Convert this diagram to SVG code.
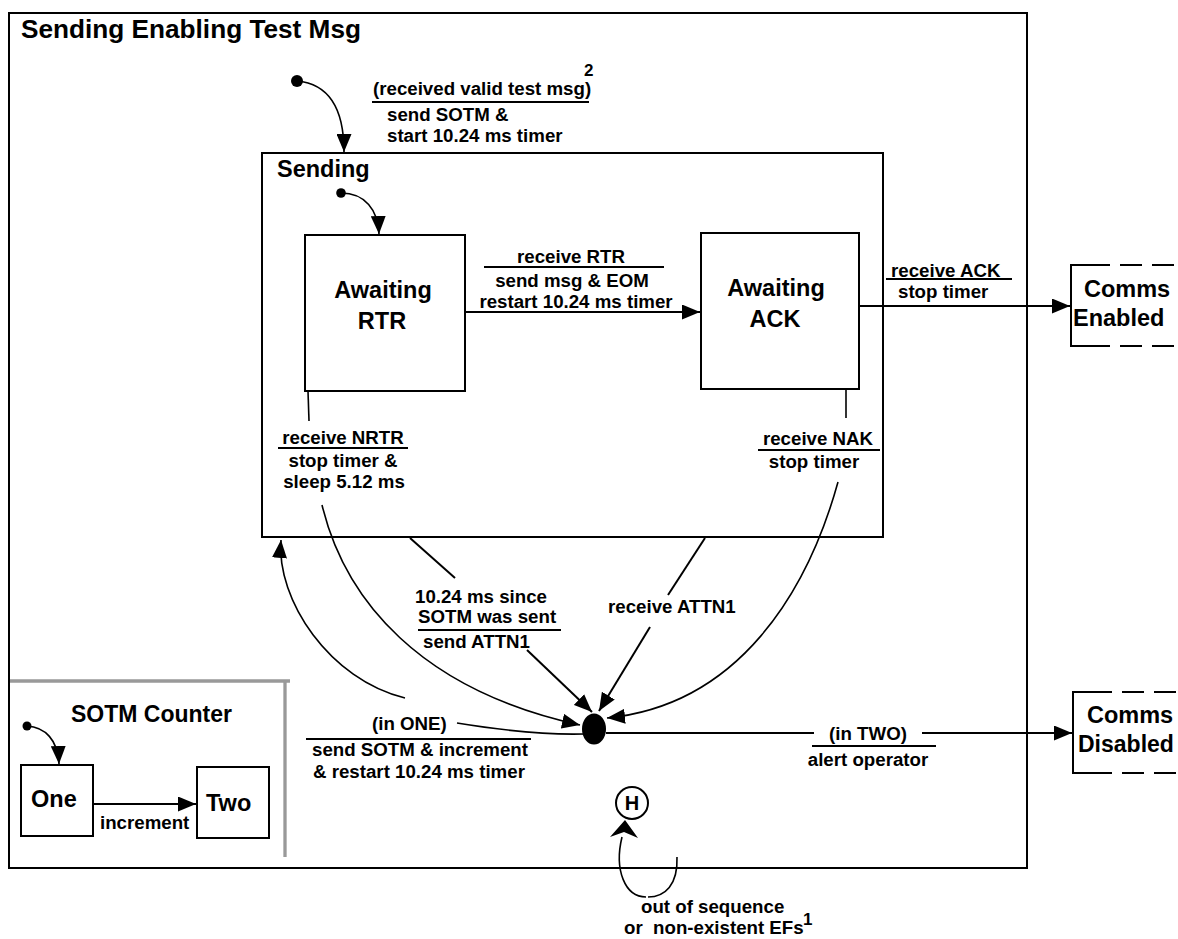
<svg xmlns="http://www.w3.org/2000/svg" width="1178" height="939" viewBox="0 0 1178 939">
<style>
.box{fill:none;stroke:#000;stroke-width:2}
.t{font-family:"Liberation Sans",Arial,sans-serif;font-weight:bold;fill:#000}
.s{font-size:18.7px}
.l{font-size:23.5px}
.c{fill:none;stroke:#000;stroke-width:2}
.cv{fill:none;stroke:#000;stroke-width:1.6}
.ul{stroke:#000;stroke-width:2}
.dash{stroke:#000;stroke-width:2;stroke-dasharray:22 10;fill:none}
.gray{stroke:#999;stroke-width:3.3;fill:none}
.mid{text-anchor:middle}
</style>
<defs>
<marker id="arr" markerUnits="userSpaceOnUse" markerWidth="18" markerHeight="15" refX="18" refY="7.5" orient="auto">
<path d="M0,0 L18,7.5 L0,15 z" fill="#000"/>
</marker>
</defs>
<rect width="1178" height="939" fill="#fff"/>

<g id="outer-state">
<rect class="box" x="9" y="13" width="1018" height="855"/>
<text class="t" x="21" y="38" font-size="26.2">Sending Enabling Test Msg</text>
</g>

<g id="sending">
<rect class="box" x="262" y="153" width="621" height="384"/>
<text class="t l" x="277" y="177">Sending</text>
</g>

<g id="awaiting-rtr">
<rect class="box" x="305" y="235" width="160" height="156"/>
<text class="t l mid" x="383" y="298">Awaiting</text>
<text class="t l mid" x="382" y="329">RTR</text>
</g>

<g id="awaiting-ack">
<rect class="box" x="701" y="233" width="158" height="156"/>
<text class="t l mid" x="776" y="296">Awaiting</text>
<text class="t l mid" x="775" y="327">ACK</text>
</g>

<g id="comms-enabled">
<path class="box" d="M1110,265 H1071 V346 H1110"/>
<path class="dash" d="M1120,265 H1180 M1120,346 H1180"/>
<text class="t l" x="1084" y="297">Comms</text>
<text class="t l" x="1073" y="326">Enabled</text>
</g>

<g id="comms-disabled">
<path class="box" d="M1112,692 H1073 V773 H1112"/>
<path class="dash" d="M1122,692 H1180 M1122,773 H1180"/>
<text class="t l" x="1087" y="723">Comms</text>
<text class="t" x="1078" y="752" font-size="23">Disabled</text>
</g>

<g id="sotm-counter">
<path class="gray" d="M10,681 H290 M285,681 V857"/>
<text class="t" x="71" y="722" font-size="23">SOTM Counter</text>
</g>

<g id="one">
<rect class="box" x="21" y="765" width="72" height="71"/>
<text class="t l" x="31" y="807">One</text>
</g>

<g id="two">
<rect class="box" x="197" y="767" width="72" height="71"/>
<text class="t l" x="206" y="811">Two</text>
</g>

<g id="initial-outer"><circle cx="297" cy="81" r="6" fill="#000"/></g>
<g id="initial-sending"><circle cx="341" cy="193" r="4.8" fill="#000"/></g>
<g id="initial-counter"><circle cx="27" cy="726" r="4.5" fill="#000"/></g>

<g id="junction"><ellipse cx="594" cy="729" rx="12" ry="15.5" fill="#000"/></g>

<g id="history">
<circle cx="632" cy="803" r="16" fill="#fff" stroke="#000" stroke-width="2"/>
<text class="t mid" x="632" y="810" font-size="20">H</text>
</g>

<g id="connectors">
<path class="cv" d="M297,81 C330,84 344,110 344,152" marker-end="url(#arr)"/>
<path class="cv" d="M341,193 C365,193 378,210 379,234" marker-end="url(#arr)"/>
<path class="cv" d="M27,726 C45,727 58,740 59,764" marker-end="url(#arr)"/>
<path class="c" d="M466,312 H700" marker-end="url(#arr)"/>
<path class="c" d="M860,306 H1070" marker-end="url(#arr)"/>
<path class="c" d="M94,804 H196" marker-end="url(#arr)"/>
<path class="cv" d="M308,391 L309,421"/>
<path class="cv" d="M322,505 C345,600 420,690 580,725" marker-end="url(#arr)"/>
<path class="cv" d="M846,389 L846,418"/>
<path class="cv" d="M838,482 C808,590 740,705 607,718" marker-end="url(#arr)"/>
<path class="c" d="M410,538 L455,578"/>
<path class="c" d="M527,650 L592,712" marker-end="url(#arr)"/>
<path class="c" d="M705,538 L668,595"/>
<path class="c" d="M650,627 L599,711" marker-end="url(#arr)"/>
<path class="cv" d="M405,698 C330,680 276,600 281,540" marker-end="url(#arr)"/>
<path class="cv" d="M457,723 C500,730 550,735 584,734"/>
<path class="c" d="M606,733 H814 M922,733 H1072" marker-end="url(#arr)"/>
<path class="cv" d="M677,857 C678,885 665,897 648,897"/>
<path class="cv" d="M646,897 C625,897 614,870 622,837"/>
<path d="M625,820 L638,838 L624,832 L610,837 z" fill="#000"/>

<g id="labels">
<text class="t s" x="373" y="95">(received valid test msg)</text>
<text class="t" x="584" y="76" font-size="17">2</text>
<line class="ul" x1="372" y1="102" x2="589" y2="102"/>
<text class="t s" x="387" y="121">send SOTM &amp;</text>
<text class="t s" x="387" y="142">start 10.24 ms timer</text>

<text class="t s mid" x="571" y="263">receive RTR</text>
<line class="ul" x1="484" y1="267" x2="664" y2="267"/>
<text class="t s mid" x="572" y="287">send msg &amp; EOM</text>
<text class="t s mid" x="576" y="308">restart 10.24 ms timer</text>

<text class="t s" x="891" y="277">receive ACK</text>
<line class="ul" x1="886" y1="279" x2="1012" y2="279"/>
<text class="t s" x="898" y="298">stop timer</text>

<text class="t s mid" x="343" y="444">receive NRTR</text>
<line class="ul" x1="278" y1="448" x2="408" y2="448"/>
<text class="t s mid" x="343" y="467">stop timer &amp;</text>
<text class="t s mid" x="344" y="488">sleep 5.12 ms</text>

<text class="t s mid" x="818" y="445">receive NAK</text>
<line class="ul" x1="758" y1="450" x2="880" y2="450"/>
<text class="t s mid" x="814" y="468">stop timer</text>

<text class="t s" x="415" y="603">10.24 ms since</text>
<text class="t s" x="418" y="623">SOTM was sent</text>
<line class="ul" x1="418" y1="630" x2="561" y2="630"/>
<text class="t s" x="423" y="648">send ATTN1</text>

<text class="t s" x="608" y="613">receive ATTN1</text>

<text class="t s" x="372" y="730">(in ONE)</text>
<line class="ul" x1="306" y1="739" x2="531" y2="739"/>
<text class="t s" x="312" y="756">send SOTM &amp; increment</text>
<text class="t s" x="313" y="778">&amp; restart 10.24 ms timer</text>

<text class="t s mid" x="868" y="740">(in TWO)</text>
<line class="ul" x1="812" y1="746" x2="936" y2="746"/>
<text class="t s mid" x="868" y="766">alert operator</text>

<text class="t s" x="100" y="829">increment</text>

<text class="t s" x="641" y="913">out of sequence</text>
<text class="t s" x="624" y="934" xml:space="preserve">or  non-existent EFs</text>
<text class="t" x="803" y="925" font-size="17">1</text>
</g>
</g>
</svg>
